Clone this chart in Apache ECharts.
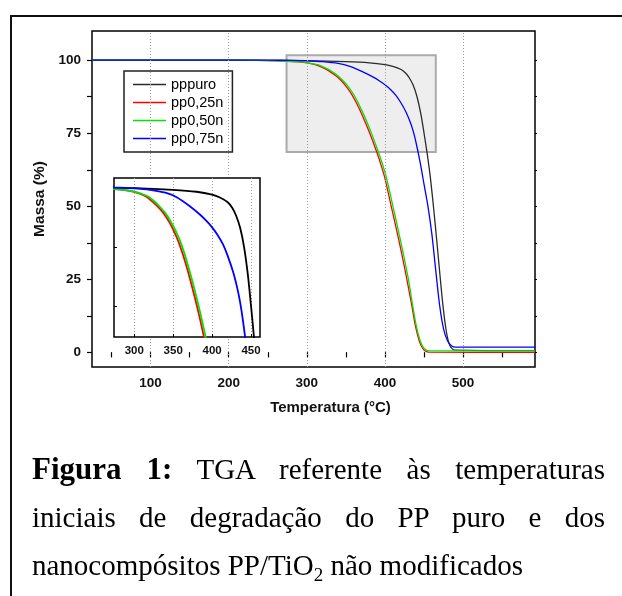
<!DOCTYPE html>
<html>
<head>
<meta charset="utf-8">
<script src="https://cdn.jsdelivr.net/npm/echarts@6/dist/echarts.min.js"></script>
<style>
  body { margin: 0; background: #fff; }
  #wrap { position: relative; width: 622px; height: 596px; overflow: hidden; background: #fff; }
  #frame { position: absolute; left: 10px; top: 15px; width: 660px; height: 660px; border: 2px solid #111; box-sizing: border-box; }
  #chart { position: absolute; left: 0; top: 0; width: 622px; height: 596px; }
  #caption { position: absolute; left: 32px; top: 445px; width: 573px; font-family: 'Liberation Serif', 'Times New Roman', serif; font-size: 29px; line-height: 48px; color: #000; }
  #caption .j { text-align: justify; text-align-last: justify; }
  #caption b { font-size: 31px; }
  #caption sub { font-size: 19px; vertical-align: -6px; line-height: 0; }
</style>
</head>
<body>
<div id="wrap">
  <div id="frame"></div>
  <div id="chart"></div>
  <div id="caption">
    <div class="j"><b>Figura 1:</b> TGA referente às temperaturas</div>
    <div class="j">iniciais de degradação do PP puro e dos</div>
    <div>nanocompósitos PP/TiO<sub>2</sub> não modificados</div>
  </div>
</div>
<script>
// temperatures (°C) and mass (%)
const tempPuro = [25, 150, 250, 300, 350, 380, 400, 410, 420, 426, 431, 436, 441, 446, 450, 454, 458, 462, 466, 470, 474, 478, 482, 486, 490, 592];
const massPuro = [100, 100, 99.95, 99.85, 99.5, 99.1, 98.5, 97.9, 96.9, 95.7, 94.0, 91.5, 87.5, 81.5, 75, 68, 60, 50, 39, 27.5, 16.5, 8, 3, 1.2, 0.8, 0.6];

const temp025 = [25, 200, 250, 275, 290, 300, 308, 316, 323, 330, 338, 345, 350, 357, 363, 369, 375, 382, 389, 395, 400, 408, 416, 422, 428, 434, 439, 444, 448, 452, 456, 592];
const mass025 = [100, 100, 99.85, 99.65, 99.4, 99.1, 98.65, 98.0, 97.1, 96.0, 94.5, 92.7, 91.1, 88.5, 85.6, 82.3, 78.6, 74.0, 68.9, 64.1, 59.5, 50, 40.5, 33, 25, 16.5, 9, 3.8, 1.5, 0.4, 0.1, 0];

const temp050 = [25, 200, 250, 275, 291, 301, 309, 318, 325, 332, 340, 347, 352, 359, 365, 371, 377, 384, 391, 397, 402, 410, 418, 424, 430, 435, 440, 445, 449, 453, 457, 592];
const mass050 = [100, 100, 99.85, 99.65, 99.4, 99.1, 98.7, 98.1, 97.2, 96.1, 94.6, 92.8, 91.3, 88.7, 85.8, 82.4, 78.8, 74.1, 69.0, 64.2, 59.6, 50.2, 40.6, 33, 25, 16.8, 9.2, 4, 1.7, 0.8, 0.55, 0.5];

const temp075 = [25, 250, 280, 300, 320, 340, 355, 371, 385, 393, 400, 407, 414, 420, 427, 432, 436, 440, 445, 450, 455, 460, 465, 470, 475, 480, 485, 490, 592];
const mass075 = [100, 100, 99.95, 99.8, 99.5, 98.9, 97.9, 96.1, 94.2, 92.9, 91.6, 90.0, 88.0, 85.6, 82.2, 79, 75.8, 71.5, 65, 57.5, 50, 40.5, 28, 16, 8, 4, 2.3, 1.8, 1.8];

const seriesNames = ['pppuro', 'pp0,25n', 'pp0,50n', 'pp0,75n'];
const seriesColors = ['#2a2a2a', '#ff0000', '#00e600', '#0000ff'];
const seriesTemps = [tempPuro, temp025, temp050, temp075];
const seriesMass = [massPuro, mass025, mass050, mass075];

const xTicksMain = [50, 100, 150, 200, 250, 300, 350, 400, 450, 500, 550];
const xLabelsMain = [100, 200, 300, 400, 500];
const yTicksMain = [0, 12.5, 25, 37.5, 50, 62.5, 75, 87.5, 100];
const yLabelsMain = [0, 25, 50, 75, 100];
const xTicksInset = [300, 350, 400, 450];
const yTicksInset = [75, 87.5, 100];

// zoom box (same range as the inset)
const boxX = [274, 465];
const boxY = [68.6, 101.7];

const font = "'Liberation Sans', Arial, sans-serif";
const chart = echarts.init(document.getElementById('chart'), null, { renderer: 'canvas' });

const pts = i => seriesTemps[i].map((t, k) => [t, seriesMass[i][k]]);

const mainSeries = seriesNames.map((name, i) => ({
  name,
  type: 'line',
  xAxisIndex: 0,
  yAxisIndex: 0,
  data: pts(i),
  symbol: 'none',
  showSymbol: false,
  smooth: 0.3,
  z: 3,
  lineStyle: { color: seriesColors[i], width: 1.3 },
  itemStyle: { color: seriesColors[i] },
}));

const insetSeries = seriesNames.map((name, i) => ({
  name,
  type: 'line',
  xAxisIndex: 2,
  yAxisIndex: 2,
  data: pts(i),
  symbol: 'none',
  showSymbol: false,
  smooth: 0.3,
  clip: true,
  z: 12,
  lineStyle: { color: i === 0 ? '#000' : seriesColors[i], width: 1.8 },
  itemStyle: { color: seriesColors[i] },
}));

const option = {
  animation: false,
  textStyle: { fontFamily: font },
  grid: [
    { left: 92, top: 31, width: 443, height: 336, show: true, borderColor: '#000', borderWidth: 1.5, backgroundColor: 'transparent', z: 0 },
    { left: 114, top: 178, width: 146, height: 159, show: true, borderColor: '#000', borderWidth: 1.5, backgroundColor: '#fff', z: 10 },
  ],
  legend: {
    data: seriesNames,
    orient: 'vertical',
    left: 124,
    top: 71,
    padding: [6, 9, 6, 9],
    icon: 'rect',
    itemWidth: 33,
    itemHeight: 1.5,
    itemGap: 3,
    borderColor: '#222',
    borderWidth: 1.5,
    borderRadius: 0,
    backgroundColor: '#fff',
    textStyle: { fontFamily: font, fontSize: 14.5, color: '#000' },
  },
  xAxis: [
    {
      type: 'value', gridIndex: 0, min: 25, max: 592, position: 'bottom',
      axisLine: { show: false },
      axisTick: { customValues: xTicksMain, length: 5, lineStyle: { color: '#000', width: 1.2 } },
      axisLabel: { customValues: xLabelsMain, fontSize: 13.5, fontWeight: 'bold', color: '#111', margin: 9, fontFamily: font },
      splitLine: { show: false },
      name: 'Temperatura (°C)', nameLocation: 'middle', nameGap: 33,
      nameTextStyle: { fontSize: 15, fontWeight: 'bold', color: '#111', fontFamily: font, padding: [0, 0, 0, 34] },
    },
    {
      type: 'value', gridIndex: 0, min: 25, max: 592, position: 'top',
      axisLine: { show: false },
      axisTick: { customValues: xTicksMain, inside: true, length: 3, lineStyle: { color: '#000', width: 1 } },
      axisLabel: { show: false },
      splitLine: { show: false },
    },
    {
      type: 'value', gridIndex: 1, min: 274, max: 461.5, position: 'bottom', z: 11,
      axisLine: { show: false },
      axisTick: { customValues: xTicksInset, inside: true, length: 3, lineStyle: { color: '#000', width: 1 } },
      axisLabel: { customValues: xTicksInset, fontSize: 11.5, fontWeight: 'bold', color: '#111', margin: 8, fontFamily: font },
      splitLine: { show: true, lineStyle: { color: '#999', type: [1, 2], width: 1 } },
    },
  ],
  yAxis: [
    {
      type: 'value', gridIndex: 0, min: -5, max: 110, position: 'left',
      axisLine: { show: false },
      axisTick: { customValues: yTicksMain, length: 5, lineStyle: { color: '#000', width: 1.2 } },
      axisLabel: { customValues: yLabelsMain, fontSize: 13.5, fontWeight: 'bold', color: '#111', margin: 11, fontFamily: font },
      splitLine: { show: false },
      name: 'Massa (%)', nameLocation: 'middle', nameGap: 37, nameRotate: 90,
      nameTextStyle: { fontSize: 15.5, fontWeight: 'bold', color: '#111', fontFamily: font },
    },
    {
      type: 'value', gridIndex: 0, min: -5, max: 110, position: 'right',
      axisLine: { show: false },
      axisTick: { customValues: yTicksMain, length: 2, lineStyle: { color: '#000', width: 1 } },
      axisLabel: { show: false },
      splitLine: { show: false },
    },
    {
      type: 'value', gridIndex: 1, min: 68.5, max: 102, position: 'left', z: 11,
      axisLine: { show: false },
      axisTick: { customValues: yTicksInset, inside: true, length: 3, lineStyle: { color: '#000', width: 1 } },
      axisLabel: { show: false },
      splitLine: { show: false },
    },
  ],
  series: [
    {
      name: 'zoom',
      type: 'line',
      xAxisIndex: 0,
      yAxisIndex: 0,
      data: [],
      z: 1,
      silent: true,
      markArea: {
        silent: true,
        itemStyle: { color: '#eeeeee', borderColor: '#aaaaaa', borderWidth: 2 },
        data: [[{ coord: [boxX[0], boxY[1]] }, { coord: [boxX[1], boxY[0]] }]],
      },
      markLine: {
        silent: true,
        symbol: 'none',
        label: { show: false },
        lineStyle: { color: '#999', type: [1, 2], width: 1 },
        data: xLabelsMain.map(v => ({ xAxis: v })),
      },
    },
    ...mainSeries,
    ...insetSeries,
  ],
};

chart.setOption(option);
</script>
</body>
</html>
